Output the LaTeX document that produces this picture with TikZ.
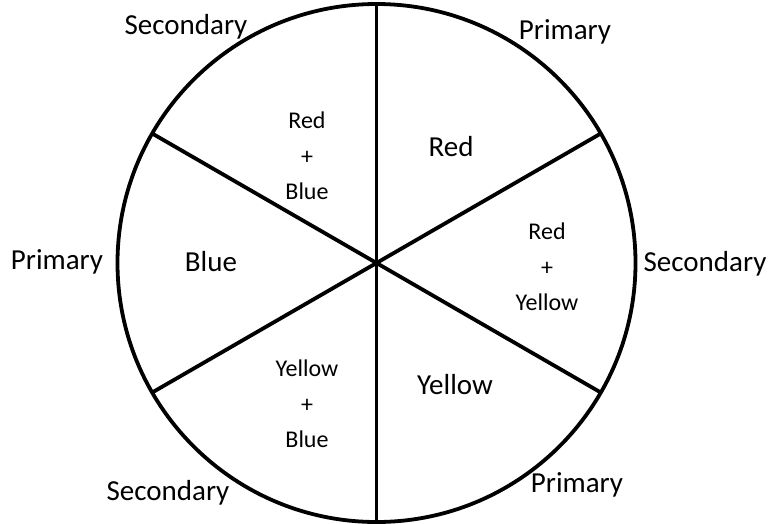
\documentclass[tikz,border=0pt]{standalone}
\usepackage{fontspec}
\setmainfont{Carlito}
\usetikzlibrary{calc}
\begin{document}
\begin{tikzpicture}[x=1pt,y=-1pt,
  big/.style={font=\fontsize{29}{34}\selectfont, inner sep=0pt},
  small/.style={font=\fontsize{24}{35.5}\selectfont, inner sep=0pt, align=center},
  wheel/.style={line width=3.8pt}]
\useasboundingbox (0,0) rectangle (784,523);
\coordinate (c) at (376.5,263);
\draw[wheel] (c) circle[radius=259];
\foreach \a/\n in {90/a,270/b,30/d,150/e,210/f,330/g}{
  \coordinate (p\n) at ($(c)+(\a:259)$);
  \draw[wheel, line cap=butt] (c) -- (p\n);
}
% outer labels
\node[big] (s1) at (186,27) {Secondary};
\node[big] (p1) at (565,32) {Primary};
\node[big] (p2) at (57,262) {Primary};
\node[big] (s2) at (705,264) {Secondary};
\node[big] (s3) at (168,493) {Secondary};
\node[big] (p3) at (577,485) {Primary};
% inner labels
\node[big] (red) at (451,147) {Red};
\node[big] (blue) at (211,262) {Blue};
\node[big] (yellow) at (455,385) {Yellow};
\node[small] (rb) at (307,156) {Red\\+\\Blue};
\node[small] (ry) at (547,267) {Red\\+\\Yellow};
\node[small] (yb) at (307,404) {Yellow\\+\\Blue};
\end{tikzpicture}
\end{document}
